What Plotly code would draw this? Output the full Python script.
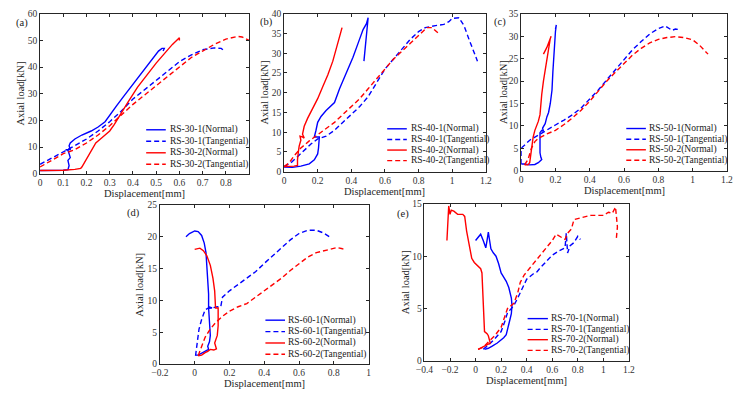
import plotly.graph_objects as go

W, H = 743, 398
BLUE = "#0000FF"
RED = "#FF0000"

# ---------------- data ----------------
# (a) RS-30
a1n_x = [0, 0.05, 0.10, 0.12, 0.125, 0.12, 0.13, 0.125, 0.12, 0.11, 0.13, 0.125, 0.13, 0.15, 0.18, 0.22, 0.25, 0.28, 0.30, 0.33, 0.36, 0.40, 0.43, 0.46, 0.49, 0.51, 0.525, 0.535, 0.53]
a1n_y = [1.2, 1.2, 1.3, 1.5, 3, 5, 6, 7.5, 8.8, 9, 9, 10.5, 11.5, 13, 14.5, 16, 17.5, 19.5, 22, 25.5, 29, 33.5, 37, 40.5, 44, 46, 47, 47, 46]
a1t_x = [0, 0.05, 0.1, 0.15, 0.2, 0.25, 0.3, 0.35, 0.4, 0.45, 0.5, 0.55, 0.6, 0.65, 0.7, 0.75, 0.78, 0.79]
a1t_y = [3.5, 5.8, 8, 10.5, 13, 16, 19.5, 23.5, 28, 31.5, 35, 38.5, 42, 44.5, 46.5, 47.2, 47, 46.3]
a2n_x = [0, 0.05, 0.1, 0.15, 0.175, 0.18, 0.19, 0.2, 0.21, 0.22, 0.225, 0.23, 0.24, 0.26, 0.28, 0.3, 0.32, 0.35, 0.38, 0.42, 0.46, 0.5, 0.54, 0.57, 0.6, 0.6]
a2n_y = [1.2, 1.2, 1.3, 1.6, 2, 2.5, 4, 5.5, 7, 8, 9, 10, 11.5, 13, 14.5, 16, 18.5, 22.5, 27, 32.5, 37, 41.5, 45.5, 48.5, 51, 50]
a2t_x = [0, 0.05, 0.1, 0.15, 0.2, 0.25, 0.3, 0.35, 0.4, 0.45, 0.5, 0.55, 0.6, 0.65, 0.7, 0.75, 0.8, 0.85, 0.87, 0.9]
a2t_y = [2.5, 5, 7.5, 9, 11.5, 14.5, 18, 22, 26, 29.5, 33, 36.5, 40, 43.5, 46, 48.5, 50.5, 51.5, 51.3, 50]

# (b) RS-40
b1n_x = [0, 0.05, 0.1, 0.15, 0.18, 0.2, 0.205, 0.21, 0.21, 0.19, 0.18, 0.19, 0.2, 0.22, 0.25, 0.3, 0.33, 0.37, 0.41, 0.44, 0.47, 0.49, 0.5, 0.475]
b1n_y = [1.2, 1.1, 1.4, 2, 3, 4.5, 6, 8, 8.8, 8.8, 8.8, 10.5, 12.5, 14, 15.5, 17.5, 21, 25, 29, 32.5, 36, 37.5, 39, 28]
b1t_x = [0, 0.04, 0.08, 0.12, 0.16, 0.2, 0.25, 0.3, 0.35, 0.4, 0.45, 0.5, 0.55, 0.6, 0.65, 0.7, 0.75, 0.8, 0.84, 0.9, 0.95, 0.98, 1.0, 1.04, 1.07, 1.1, 1.15]
b1t_y = [1.3, 2.2, 3.8, 5.5, 7, 8.3, 9, 10.5, 12.5, 14.5, 16.5, 19, 22.5, 26, 28.5, 31, 33.5, 35.5, 36.5, 37, 37.3, 38, 38.8, 39, 37, 33.5, 28]
b2n_x = [0, 0.03, 0.06, 0.08, 0.08, 0.085, 0.09, 0.1, 0.095, 0.11, 0.12, 0.11, 0.12, 0.14, 0.17, 0.2, 0.23, 0.26, 0.29, 0.31, 0.33, 0.345]
b2n_y = [1.3, 1.3, 1.4, 1.6, 3, 5, 6.5, 8, 9, 8.8, 8.5, 9.5, 11.5, 13.5, 16, 18.5, 21.5, 24.5, 28, 31, 34, 36.5]
b2t_x = [0, 0.03, 0.06, 0.1, 0.15, 0.2, 0.25, 0.3, 0.35, 0.4, 0.45, 0.5, 0.55, 0.6, 0.65, 0.7, 0.75, 0.8, 0.85, 0.88, 0.92]
b2t_y = [1.3, 2.2, 4, 6, 7.8, 9.3, 11, 12.5, 14.5, 16.5, 18.5, 21, 23.5, 26, 28.5, 30.5, 32.5, 34.5, 36.5, 36.5, 35]

# (c) RS-50
c1n_x = [0, 0.02, 0.05, 0.08, 0.1, 0.12, 0.115, 0.11, 0.11, 0.11, 0.12, 0.13, 0.125, 0.14, 0.15, 0.16, 0.17, 0.18, 0.185, 0.19, 0.195, 0.2, 0.205, 0.2]
c1n_y = [1.5, 1.5, 1.3, 1.4, 1.8, 2.5, 3, 4, 6, 8.5, 9, 8.8, 9.5, 10.5, 12, 13, 15, 18, 22, 26, 29, 31, 32.5, 31.5]
c1t_x = [0, 0, 0.05, 0.1, 0.15, 0.2, 0.25, 0.3, 0.35, 0.4, 0.45, 0.5, 0.55, 0.6, 0.65, 0.7, 0.75, 0.8, 0.84, 0.88, 0.9, 0.92]
c1t_y = [1.5, 5, 6.8, 8, 9, 10.2, 11.3, 12.5, 14, 16, 18, 20.3, 22.5, 24.8, 27, 28.8, 30.5, 31.7, 32.3, 31.3, 31.6, 31.5]
c2n_x = [0.02, 0.04, 0.05, 0.055, 0.06, 0.07, 0.08, 0.09, 0.1, 0.11, 0.115, 0.12, 0.13, 0.14, 0.15, 0.16, 0.17, 0.175, 0.165, 0.15, 0.13]
c2n_y = [1.3, 1.3, 1.8, 3.5, 5.5, 7.5, 9, 10, 11, 12.5, 15, 17, 20, 22.5, 25, 27.5, 29.5, 30, 29, 27.5, 26]
c2t_x = [0.02, 0.04, 0.06, 0.08, 0.1, 0.15, 0.2, 0.25, 0.3, 0.35, 0.4, 0.45, 0.5, 0.55, 0.6, 0.65, 0.7, 0.75, 0.8, 0.85, 0.9, 0.95, 1.0, 1.04, 1.09]
c2t_y = [1.3, 2.5, 5, 6.5, 7.2, 8.2, 9, 10.3, 11.8, 13.5, 15.5, 17.8, 20, 22, 24, 25.8, 27.3, 28.5, 29.3, 29.7, 29.9, 29.7, 29.2, 28, 26]

# (d) RS-60
d1n_x = [-0.05, -0.03, 0.0, 0.02, 0.04, 0.055, 0.065, 0.07, 0.075, 0.08, 0.08, 0.1, 0.08, 0.085, 0.09, 0.085, 0.075, 0.08, 0.06, 0.04, 0.02, 0.005]
d1n_y = [20, 20.5, 20.9, 20.8, 20.2, 19, 17.5, 15.5, 13, 11, 9, 8.8, 8.8, 6.5, 4.5, 3.5, 2.8, 2.3, 2.0, 1.6, 1.4, 1.4]
d1t_x = [0.005, 0.01, 0.015, 0.025, 0.04, 0.06, 0.08, 0.1, 0.13, 0.15, 0.16, 0.2, 0.25, 0.3, 0.35, 0.4, 0.45, 0.5, 0.55, 0.6, 0.65, 0.7, 0.74, 0.78]
d1t_y = [1.3, 2.5, 4, 5.5, 7, 8.5, 8.8, 8.8, 9, 9, 10.5, 11.5, 12.5, 13.5, 14.5, 15.8, 17, 18.3, 19.5, 20.5, 21, 21, 20.6, 19.9]
d2n_x = [0.0, 0.03, 0.05, 0.07, 0.09, 0.105, 0.115, 0.12, 0.12, 0.13, 0.135, 0.135, 0.13, 0.115, 0.125, 0.11, 0.09, 0.075, 0.06, 0.04, 0.02]
d2n_y = [18, 18.2, 17.8, 17, 15.5, 13.5, 11.5, 9.5, 8.8, 8.8, 8.8, 6, 4.5, 3.3, 2.4, 2.2, 2.3, 2.0, 1.8, 1.4, 1.3]
d2t_x = [0.02, 0.04, 0.06, 0.09, 0.12, 0.16, 0.2, 0.25, 0.3, 0.35, 0.4, 0.45, 0.5, 0.55, 0.6, 0.65, 0.7, 0.75, 0.8, 0.82, 0.85, 0.87]
d2t_y = [1.3, 2.8, 4.2, 5.5, 6.5, 7.5, 8.3, 9, 9.5, 10.5, 11.5, 12.5, 13.5, 14.7, 15.8, 16.8, 17.5, 17.8, 18.1, 18.3, 18.1, 18]

# (e) RS-70
e1n_x = [0.0, 0.02, 0.04, 0.06, 0.08, 0.09, 0.1, 0.11, 0.12, 0.14, 0.16, 0.18, 0.2, 0.22, 0.24, 0.26, 0.27, 0.28, 0.285, 0.28, 0.27, 0.26, 0.25, 0.24, 0.22, 0.2, 0.17, 0.13, 0.1, 0.07]
e1n_y = [11.5, 11.8, 12.1, 11.5, 10.8, 11.5, 12.3, 11.5, 10.7, 10.3, 10, 9.3, 8.4, 8, 7.6, 7, 6.5, 6, 5.3, 4.5, 4, 3.5, 3, 2.5, 2.2, 2, 1.7, 1.4, 1.2, 1.1]
e1t_x = [0.06, 0.1, 0.15, 0.2, 0.23, 0.25, 0.28, 0.3, 0.33, 0.35, 0.38, 0.4, 0.45, 0.48, 0.5, 0.55, 0.6, 0.65, 0.7, 0.71, 0.72, 0.74, 0.77, 0.8, 0.82]
e1t_y = [1.1, 1.5, 2.1, 2.8, 3.8, 4.6, 5.0, 5.3, 6.0, 6.5, 7.2, 7.8, 8.3, 8.5, 8.8, 9.5, 10.1, 10.5, 10.8, 12.2, 10.3, 11.0, 11.3, 11.9, 11.6]
e2n_x = [-0.224, -0.21, -0.2, -0.19, -0.17, -0.14, -0.1, -0.085, -0.07, -0.05, -0.03, -0.01, 0.02, 0.04, 0.05, 0.055, 0.06, 0.065, 0.07, 0.09, 0.1, 0.115, 0.08, 0.05, 0.02]
e2n_y = [11.5, 14.8, 14.0, 14.4, 14.3, 14.0, 14.0, 13.8, 12.4, 11.0, 9.8, 9.4, 9.0, 8.8, 8.4, 7, 5, 3.5, 2.8, 2.6, 2.4, 1.7, 1.5, 1.3, 1.1]
e2t_x = [0.02, 0.06, 0.1, 0.15, 0.2, 0.23, 0.25, 0.28, 0.3, 0.33, 0.35, 0.38, 0.4, 0.45, 0.5, 0.55, 0.6, 0.63, 0.66, 0.7, 0.72, 0.75, 0.77, 0.8, 0.85, 0.9, 0.95, 1.0, 1.04, 1.07, 1.095, 1.11, 1.1]
e2t_y = [1.1, 1.3, 1.8, 2.4, 3.2, 4.3, 5.0, 5.3, 5.5, 6.5, 7.5, 8.2, 8.5, 9.2, 10.0, 10.8, 11.5, 12.1, 11.9, 11.6, 12.2, 12.6, 13.5, 13.6, 13.8, 13.9, 13.9, 13.9, 14.2, 14.1, 14.7, 12.8, 11.5]

# tick labels
a_xticks = [0, 0.1, 0.2, 0.3, 0.4, 0.5, 0.6, 0.7, 0.8]
a_xlabels = ["0", "0.1", "0.2", "0.3", "0.4", "0.5", "0.6", "0.7", "0.8"]
bc_xticks = [0, 0.2, 0.4, 0.6, 0.8, 1.0, 1.2]
bc_xlabels = ["0", "0.2", "0.4", "0.6", "0.8", "1", "1.2"]
d_xticks = [-0.2, 0, 0.2, 0.4, 0.6, 0.8, 1.0]
d_xlabels = ["\u22120.2", "0", "0.2", "0.4", "0.6", "0.8", "1"]
e_xticks = [-0.4, -0.2, 0, 0.2, 0.4, 0.6, 0.8, 1.0, 1.2]
e_xlabels = ["\u22120.4", "\u22120.2", "0", "0.2", "0.4", "0.6", "0.8", "1", "1.2"]

panel_labels = ["(a)", "(b)", "(c)", "(d)", "(e)"]
groups = ["30", "40", "50", "60", "70"]
x_title = "Displacement[mm]"
y_title = "Axial load[kN]"

# ---------------- layout geometry (pixels) ----------------
panels = [
    dict(x0=31.7, x1=245, yt=9, yb=173, xr=[0, 0.9], yr=[0, 60], yd=10, xt=a_xticks, xl=a_xlabels),
    dict(x0=280.7, x1=486.7, yt=9, yb=171, xr=[0, 1.2], yr=[0, 40], yd=5, xt=bc_xticks, xl=bc_xlabels),
    dict(x0=522.7, x1=732.7, yt=9, yb=170, xr=[0, 1.2], yr=[0, 35], yd=5, xt=bc_xticks, xl=bc_xlabels),
    dict(x0=154, x1=367, yt=205, yb=368.3, xr=[-0.2, 1.0], yr=[0, 25], yd=5, xt=d_xticks, xl=d_xlabels),
    dict(x0=424, x1=632.7, yt=204, yb=365, xr=[-0.4, 1.2], yr=[0, 15], yd=5, xt=e_xticks, xl=e_xlabels),
]

series = [
    [(a1n_x, a1n_y), (a1t_x, a1t_y), (a2n_x, a2n_y), (a2t_x, a2t_y)],
    [(b1n_x, b1n_y), (b1t_x, b1t_y), (b2n_x, b2n_y), (b2t_x, b2t_y)],
    [(c1n_x, c1n_y), (c1t_x, c1t_y), (c2n_x, c2n_y), (c2t_x, c2t_y)],
    [(d1n_x, d1n_y), (d1t_x, d1t_y), (d2n_x, d2n_y), (d2t_x, d2t_y)],
    [(e1n_x, e1n_y), (e1t_x, e1t_y), (e2n_x, e2n_y), (e2t_x, e2t_y)],
]
DASH = "5px,3px"
styles = [(BLUE, "solid", "1(Normal)"), (BLUE, DASH, "1(Tangential)"),
          (RED, "solid", "2(Normal)"), (RED, DASH, "2(Tangential)")]

legends = [
    (140, 160, 162, [128, 139.8, 151.6, 163.4]),
    (386, 406, 408, [127, 138, 148.8, 159.6]),
    (630, 650, 651.5, [126.7, 137.7, 148.5, 159.3]),
    (261.7, 281.7, 283, [323.3, 335, 346.7, 358.3]),
    (529.3, 550, 551.5, [321.7, 332.7, 343.3, 354.3]),
]
panel_label_pos = [(13, 18.5), (262.5, 17.5), (501.5, 17.5), (127, 213.5), (402.5, 214)]
ytitle_x = [12, 261, 504, 133, 405]

FONT = "Liberation Serif"
AX = "#262626"

def px(x):
    return x / W

def py(y):
    return 1 - y / H

fig = go.Figure()
layout = dict(width=W, height=H, margin=dict(l=0, r=0, t=0, b=0),
              paper_bgcolor="white", plot_bgcolor="white", showlegend=False,
              font=dict(family=FONT, color=AX))
annotations = []
shapes = []

for i, p in enumerate(panels):
    n = "" if i == 0 else str(i + 1)
    xa, ya = "x" + n, "y" + n
    common = dict(showline=True, linecolor=AX, linewidth=0.8, mirror="allticks",
                  ticks="inside", ticklen=3, tickcolor=AX, tickwidth=0.8,
                  showgrid=False, zeroline=False,
                  tickfont=dict(family=FONT, size=9.5, color="#333333"))
    layout["xaxis" + n] = dict(domain=[px(p["x0"]), px(p["x1"])], range=p["xr"], anchor=ya,
                               tickmode="array", tickvals=p["xt"], ticktext=p["xl"], **common)
    layout["yaxis" + n] = dict(domain=[py(p["yb"]), py(p["yt"])], range=p["yr"], anchor=xa,
                               tick0=0, dtick=p["yd"], **common)
    for (sx, sy), (col, dash, suffix) in zip(series[i], styles):
        fig.add_trace(go.Scatter(x=sx, y=sy, mode="lines", xaxis=xa, yaxis=ya,
                                 name="RS-" + groups[i] + "-" + suffix,
                                 line=dict(color=col, dash=dash, width=1.4)))
    lx0, lx1, tx, rows = legends[i]
    for (col, dash, suffix), ry in zip(styles, rows):
        shapes.append(dict(type="line", xref="paper", yref="paper",
                           x0=px(lx0), x1=px(lx1), y0=py(ry), y1=py(ry),
                           line=dict(color=col, dash=dash, width=1.4)))
        annotations.append(dict(text="RS-" + groups[i] + "-" + suffix, xref="paper", yref="paper",
                                x=px(tx), y=py(ry), xanchor="left", yanchor="middle",
                                showarrow=False, font=dict(family=FONT, size=9.5, color="#1a1a1a")))
    annotations.append(dict(text=x_title, xref="paper", yref="paper",
                            x=px((p["x0"] + p["x1"]) / 2), y=py(p["yb"] + 20),
                            xanchor="center", yanchor="middle", showarrow=False,
                            font=dict(family=FONT, size=10.5, color=AX)))
    annotations.append(dict(text=y_title, xref="paper", yref="paper", textangle=-90,
                            x=px(ytitle_x[i]), y=py((p["yt"] + p["yb"]) / 2),
                            xanchor="center", yanchor="middle", showarrow=False,
                            font=dict(family=FONT, size=10.5, color=AX)))
    lx, ly = panel_label_pos[i]
    annotations.append(dict(text=panel_labels[i], xref="paper", yref="paper",
                            x=px(lx), y=py(ly), xanchor="center", yanchor="middle",
                            showarrow=False, font=dict(family=FONT, size=10.5, color="#1a1a1a")))

layout["annotations"] = annotations
layout["shapes"] = shapes
fig.update_layout(**layout)
fig.write_html("out.html")
